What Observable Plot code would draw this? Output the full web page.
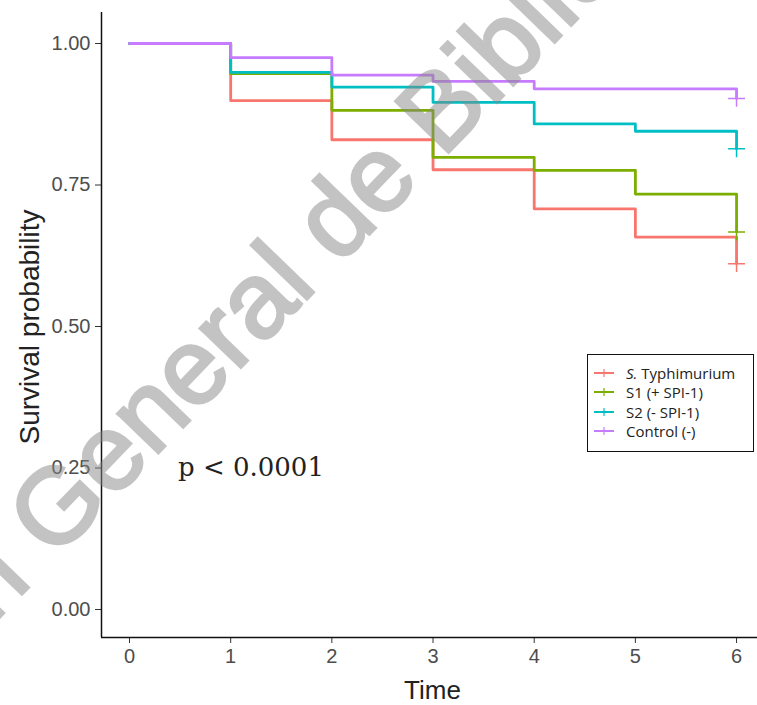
<!DOCTYPE html>
<html><head><meta charset="utf-8">
<script src="https://cdn.jsdelivr.net/npm/d3@7"></script>
<script src="https://cdn.jsdelivr.net/npm/@observablehq/plot@0.6"></script>
<style>
body{margin:0;background:#fff;}
#wrap{position:relative;width:757px;height:705px;overflow:hidden;background:#fff;}
#legend{position:absolute;left:587px;top:354px;width:167px;height:98px;box-sizing:border-box;border:1.5px solid #111;background:#fff;padding-top:8px;font-family:"Open Sans",sans-serif;font-size:15px;color:#222;}
.lrow{display:flex;align-items:center;height:19.5px;}
.lrow svg{margin-left:6px;margin-right:12px;}
#pval{position:absolute;left:178px;top:452px;font-family:"DejaVu Serif",serif;font-size:26px;color:#222;white-space:nowrap;}
#wm{position:absolute;left:0;top:0;pointer-events:none;}
</style></head><body><div id="wrap"></div>
<script>
const times = [0, 1, 2, 3, 4, 5, 6];
const groups = ["S. Typhimurium", "S1 (+ SPI-1)", "S2 (- SPI-1)", "Control (-)"];
const colors = ["#F8766D", "#7CAE00", "#00BFC4", "#C77CFF"];
const typhimurium = [1.000, 0.899, 0.830, 0.777, 0.708, 0.658, 0.611];
const s1 = [1.000, 0.947, 0.882, 0.799, 0.776, 0.734, 0.667];
const s2 = [1.000, 0.949, 0.923, 0.896, 0.858, 0.845, 0.814];
const control = [1.000, 0.975, 0.944, 0.933, 0.920, 0.920, 0.903];
const xTicks = [0, 1, 2, 3, 4, 5, 6];
const yTicks = [0, 0.25, 0.5, 0.75, 1];
const xLabel = "Time";
const yLabel = "Survival probability";
const pLabel = "p < 0.0001";
const watermarkBefore = "Dirección\u00a0";
const watermarkAfter = "General de Bibliotecas UAQ";

const series = [typhimurium, s1, s2, control];
const rows = [];
series.forEach((vals, gi) => vals.forEach((v, i) => rows.push({group: groups[gi], time: times[i], surv: v})));
const ends = groups.map((g, gi) => ({group: g, time: times[times.length - 1], surv: series[gi][series[gi].length - 1]}));

const xMin = -0.2768, xMax = 6.207, yMin = -0.0495, yMax = 1.0548;

const plot = Plot.plot({
  width: 757, height: 705,
  marginLeft: 101, marginRight: 0, marginTop: 12, marginBottom: 68,
  x: {domain: [xMin, xMax]},
  y: {domain: [yMin, yMax]},
  color: {domain: groups, range: colors},
  style: {fontFamily: "'Liberation Sans', Arial, sans-serif", background: "white", overflow: "visible"},
  marks: [
    Plot.axisY({ticks: yTicks, tickFormat: d3.format(".2f"), tickSize: 6, tickPadding: 5, fontSize: 20, fill: "#4d4d4d", stroke: "#333", label: null}),
    Plot.axisX({ticks: xTicks, tickFormat: d3.format("d"), tickSize: 6, tickPadding: 5, fontSize: 20, fill: "#4d4d4d", stroke: "#333", label: null}),
    Plot.ruleX([xMin], {stroke: "#111", strokeWidth: 1.5}),
    Plot.ruleY([yMin], {stroke: "#111", strokeWidth: 1.5}),
    Plot.line(rows, {x: "time", y: "surv", z: "group", stroke: "group", curve: "step-after", strokeWidth: 2.8}),
    Plot.dot(ends, {x: "time", y: "surv", stroke: "group", symbol: "plus", r: 5.5, strokeWidth: 1.5}),
    Plot.text([xLabel], {frameAnchor: "bottom", dy: 53, dx: 3, fontSize: 26, fill: "#222", lineAnchor: "middle", textAnchor: "middle"}),
    Plot.text([yLabel], {frameAnchor: "left", dx: -71, dy: 2, rotate: -90, fontSize: 28, fill: "#222", lineAnchor: "middle", textAnchor: "middle"})
  ]
});
const wrap = document.getElementById("wrap");
wrap.appendChild(plot);

const p = document.createElement("div");
p.id = "pval";
p.textContent = pLabel;
wrap.appendChild(p);

const legend = document.createElement("div");
legend.id = "legend";
groups.forEach((g, i) => {
  const row = document.createElement("div");
  row.className = "lrow";
  row.innerHTML = `<svg width="20" height="12"><line x1="0" y1="6" x2="20" y2="6" stroke="${colors[i]}" stroke-width="2"/><line x1="10" y1="2" x2="10" y2="10" stroke="${colors[i]}" stroke-width="1.2"/></svg>`;
  const span = document.createElement("span");
  if (g.startsWith("S. ")) {
    const it = document.createElement("i");
    it.textContent = "S.";
    span.appendChild(it);
    span.appendChild(document.createTextNode(g.slice(2)));
  } else {
    span.textContent = g;
  }
  row.appendChild(span);
  legend.appendChild(row);
});
wrap.appendChild(legend);

// faint diagonal watermark of the source document
const wm = d3.select(wrap).append("svg").attr("id", "wm").attr("width", 757).attr("height", 705);
const g = wm.append("g").attr("transform", "translate(54,561) rotate(-46)")
  .attr("font-family", "'Liberation Sans', Arial, sans-serif").attr("font-size", 107);
g.append("text").attr("text-anchor", "end").attr("fill", "#888").attr("stroke", "#888").attr("stroke-width", 3).attr("opacity", 0.5).text(watermarkBefore);
g.append("text").attr("text-anchor", "start").attr("fill", "#888").attr("stroke", "#888").attr("stroke-width", 3).attr("opacity", 0.5).text(watermarkAfter);
</script></body></html>
